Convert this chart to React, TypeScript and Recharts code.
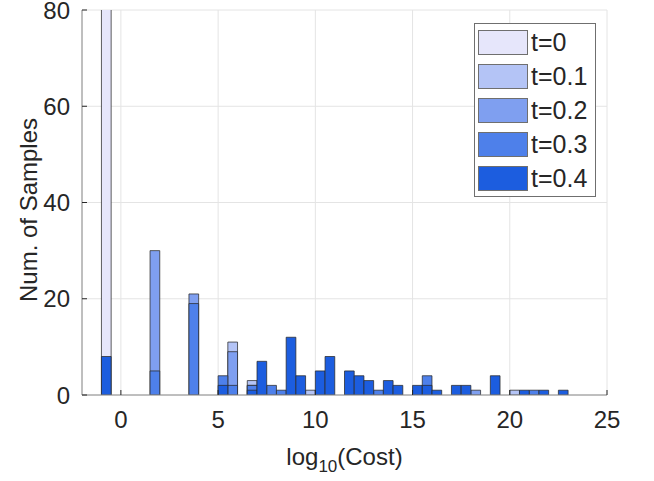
import React from 'react';
import { ComposedChart, Bar, XAxis, YAxis, CartesianGrid, Legend, Label } from 'recharts';

// histogram bins, 0.5 wide, given by their centres
const binCenters = [
  -0.75, -0.25, 0.25, 0.75, 1.25, 1.75, 2.25, 2.75, 3.25, 3.75, 4.25, 4.75,
  5.25, 5.75, 6.25, 6.75, 7.25, 7.75, 8.25, 8.75, 9.25, 9.75, 10.25, 10.75,
  11.25, 11.75, 12.25, 12.75, 13.25, 13.75, 14.25, 14.75, 15.25, 15.75, 16.25, 16.75,
  17.25, 17.75, 18.25, 18.75, 19.25, 19.75, 20.25, 20.75, 21.25, 21.75, 22.25, 22.75,
];

const seriesNames = ['t=0', 't=0.1', 't=0.2', 't=0.3', 't=0.4'];

const countsT0 = [
  100, 0, 0, 0, 0, 0, 0, 0, 0, 0, 0, 0,
  0, 0, 0, 0, 0, 0, 0, 0, 0, 0, 0, 0,
  0, 0, 0, 0, 0, 0, 0, 0, 0, 0, 0, 0,
  0, 0, 0, 0, 0, 0, 0, 0, 0, 0, 0, 0,
];
const countsT01 = [
  0, 0, 0, 0, 0, 0, 0, 0, 0, 0, 0, 0,
  0, 11, 0, 3, 0, 0, 0, 0, 0, 1, 0, 0,
  0, 0, 0, 0, 0, 0, 0, 0, 0, 0, 0, 0,
  0, 0, 0, 0, 0, 0, 1, 0, 0, 0, 0, 0,
];
const countsT02 = [
  0, 0, 0, 0, 0, 30, 0, 0, 0, 21, 0, 0,
  0, 9, 0, 2, 0, 0, 0, 0, 0, 0, 0, 0,
  0, 0, 0, 0, 0, 0, 0, 0, 0, 0, 0, 0,
  0, 0, 1, 0, 0, 0, 0, 0, 0, 0, 0, 0,
];
const countsT03 = [
  0, 0, 0, 0, 0, 5, 0, 0, 0, 19, 0, 0,
  4, 2, 0, 2, 0, 2, 1, 0, 0, 0, 0, 0,
  0, 0, 0, 0, 1, 0, 0, 0, 0, 4, 0, 0,
  0, 0, 0, 0, 0, 0, 0, 0, 1, 0, 0, 0,
];
const countsT04 = [
  8, 0, 0, 0, 0, 0, 0, 0, 0, 0, 0, 0,
  2, 0, 0, 1, 7, 0, 0, 12, 4, 0, 5, 8,
  0, 5, 4, 3, 0, 3, 2, 0, 2, 2, 1, 0,
  2, 2, 0, 0, 4, 0, 0, 1, 0, 1, 0, 1,
];

const xTicks = [0, 5, 10, 15, 20, 25];
const yTicks = [0, 20, 40, 60, 80];

const allCounts = [countsT0, countsT01, countsT02, countsT03, countsT04];
const seriesKeys = ['s0', 's1', 's2', 's3', 's4'];
const colors = ['#e6e6fb', '#b4c4f6', '#7f9ff0', '#4e80ea', '#1c5ddf'];

const data = binCenters.map((x, i) => {
  const row: Record<string, number> = { x };
  seriesKeys.forEach((k, s) => { row[k] = allCounts[s][i]; });
  return row;
});

const textColor = '#262626';
const frameColor = '#8c8c8c';
const fontFamily = '"Liberation Sans", Arial, Helvetica, sans-serif';
const barWidth = 9.7;

const renderXTitle = () => (
  <text x={344.5} y={465} textAnchor="middle" fill={textColor} fontSize={24}>
    log
    <tspan dy={7} fontSize={17}>10</tspan>
    <tspan dy={-7}>(Cost)</tspan>
  </text>
);

const renderYTitle = () => (
  <text x={37} y={210} transform="rotate(-90 37 210)" textAnchor="middle" fill={textColor} fontSize={24}>
    Num. of Samples
  </text>
);

const renderLegend = () => (
  <div
    style={{
      width: 122,
      height: 174,
      border: '1px solid #6f6f6f',
      background: '#fff',
      boxSizing: 'border-box',
      paddingTop: 1,
    }}
  >
    {seriesNames.map((name, i) => (
      <div key={name} style={{ display: 'flex', alignItems: 'center', height: 34.2, marginLeft: 3 }}>
        <div
          style={{
            width: 50,
            height: 25,
            background: colors[i],
            border: '1px solid #6f6f6f',
            boxSizing: 'border-box',
          }}
        />
        <span style={{ marginLeft: 3, fontSize: 25, color: textColor, lineHeight: 1 }}>{name}</span>
      </div>
    ))}
  </div>
);

const App: React.FC = () => {
  return (
    <div style={{ position: 'absolute', left: 0, top: 0, width: 654, height: 481, background: '#fff', fontFamily }}>
      {/* negative barGap makes the five histograms overlap like MATLAB's hold-on plots */}
      <ComposedChart
        width={654}
        height={481}
        data={data}
        barGap={-barWidth}
        margin={{ top: 10, right: 47, left: 0, bottom: 56 }}
      >
        <CartesianGrid stroke="#e4e4e4" />
        <XAxis
          type="number"
          dataKey="x"
          domain={[-2, 25]}
          ticks={xTicks}
          interval={0}
          allowDataOverflow
          height={30}
          axisLine={{ stroke: frameColor }}
          tickLine={{ stroke: textColor }}
          tickSize={-5}
          tickMargin={21}
          tick={{ fill: textColor, fontSize: 24 }}
        >
          <Label content={renderXTitle} />
        </XAxis>
        <XAxis
          xAxisId="top"
          orientation="top"
          type="number"
          domain={[-2, 25]}
          ticks={xTicks}
          interval={0}
          allowDataOverflow
          height={0}
          axisLine={{ stroke: frameColor }}
          tickLine={{ stroke: textColor }}
          tickSize={-5}
          tick={false}
        />
        <YAxis
          type="number"
          domain={[0, 80]}
          ticks={yTicks}
          interval={0}
          allowDataOverflow
          width={82}
          axisLine={{ stroke: frameColor }}
          tickLine={{ stroke: textColor }}
          tickSize={-5}
          tickMargin={17}
          tick={{ fill: textColor, fontSize: 24 }}
        >
          <Label content={renderYTitle} />
        </YAxis>
        <YAxis
          yAxisId="right"
          orientation="right"
          type="number"
          domain={[0, 80]}
          ticks={yTicks}
          interval={0}
          allowDataOverflow
          width={0}
          axisLine={{ stroke: frameColor }}
          tickLine={{ stroke: textColor }}
          tickSize={-5}
          tick={false}
        />
        {seriesKeys.map((k, i) => (
          <Bar
            key={k}
            dataKey={k}
            name={seriesNames[i]}
            fill={colors[i]}
            stroke="#2a2a2a"
            strokeOpacity={0.75}
            strokeWidth={1}
            barSize={barWidth}
            isAnimationActive={false}
          />
        ))}
        <Legend
          layout="vertical"
          align="center"
          verticalAlign="middle"
          content={renderLegend}
          wrapperStyle={{ position: 'absolute', left: 474, top: 23, width: 122, height: 174 }}
        />
      </ComposedChart>
    </div>
  );
};

export default App;
